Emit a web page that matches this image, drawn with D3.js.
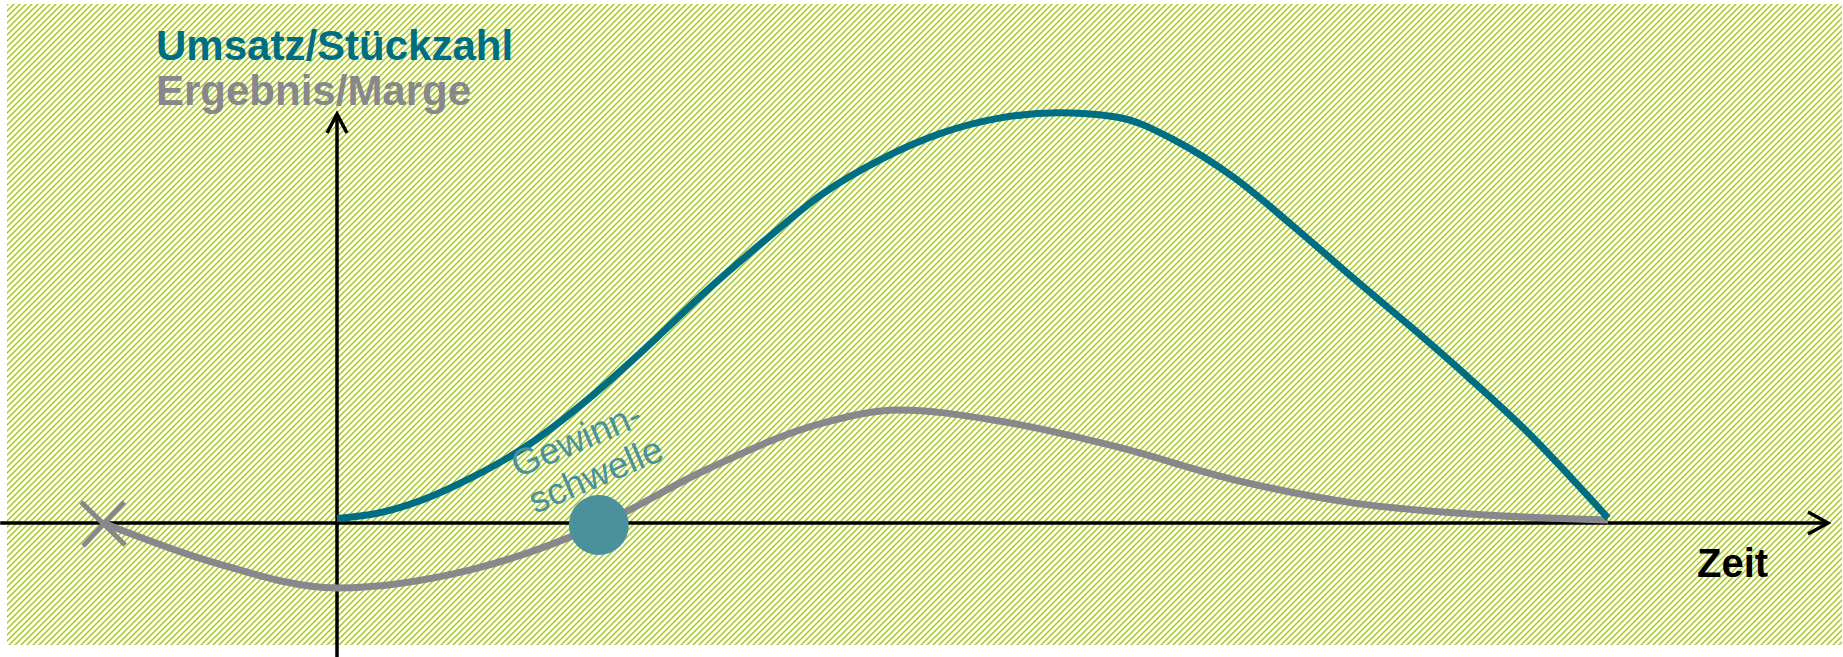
<!DOCTYPE html>
<html lang="de">
<head>
  <meta charset="UTF-8">
  <title>Produktlebenszyklus</title>
  <script src="https://d3js.org/d3.v7.min.js"></script>
  <style>
    body { margin: 0; padding: 0; overflow: hidden; background: #fff; }
    text { font-family: "Liberation Sans", Arial, sans-serif; }
  </style>
</head>
<body>
  <svg id="chart" width="1843" height="657"></svg>

  <script>
    // Data (Zeit in %, Werte relativ zum Umsatzmaximum)
    const umsatzT = [0, 3.1, 6.8, 10.5, 15.1, 19.7, 24.4, 29, 33.6, 38.2, 42.8, 47.5, 52.1, 56.7, 61.3, 66, 70.6, 75.2, 79.8, 84.5, 89.1, 93.7, 97.4, 100];
    const umsatzV = [1.1, 2.3, 5.7, 10.9, 19.1, 30, 42.9, 56.3, 68.6, 80.1, 88.5, 94.8, 98.5, 99.8, 98.8, 93, 84, 72.3, 60, 47.7, 35.2, 22, 10, 1.2];

    const ergebnisT = [-18.4, -9.8, 0, 10.5, 20.6, 29, 38.2, 44.2, 52.1, 61.4, 70.6, 79.9, 89.1, 100];
    const ergebnisV = [0, -9.5, -15.8, -11.4, -0.5, 12.9, 24.3, 27.5, 24.8, 18.5, 10.5, 4.9, 2.2, 0.7];

    const startT = -18.4;      // Beginn (X-Markierung)
    const gewinnschwelleT = 20.6;
    const legendLabels = ["Umsatz/Stückzahl", "Ergebnis/Marge"];
    const xLabel = "Zeit";
    const breakEvenLines = ["Gewinn-", "schwelle"];

    const teal = "#006e82", grey = "#87878c", dotCol = "#4a919b";

    const svg = d3.select("#chart");

    // Scales
    const x = d3.scaleLinear().domain([0, 100]).range([337, 1608]);
    const y = d3.scaleLinear().domain([0, 100]).range([523, 112]);

    // Hatched background
    const defs = svg.append("defs");
    const pat = defs.append("pattern")
      .attr("id", "hatch")
      .attr("patternUnits", "userSpaceOnUse")
      .attr("width", 6)
      .attr("height", 6);
    pat.append("rect").attr("width", 6).attr("height", 6).attr("fill", "#fff");
    pat.append("path")
      .attr("d", "M-1,1 l2,-2 M0,6 l6,-6 M5,7 l2,-2")
      .attr("stroke", "#a2c800")
      .attr("stroke-width", 1.4);

    svg.append("rect")
      .attr("x", 7).attr("y", 4)
      .attr("width", 1835).attr("height", 641)
      .attr("fill", "url(#hatch)");

    // Axes (arrows)
    const axisG = svg.append("g").attr("stroke", "#000").attr("stroke-width", 3.5).attr("fill", "none");
    const x0 = x(0), y0 = y(0);
    const xEnd = x.invert(1828), yTop = y.invert(114);
    axisG.append("line")
      .attr("x1", x(-26.5)).attr("y1", y0)
      .attr("x2", x(xEnd)).attr("y2", y0);
    axisG.append("path")
      .attr("d", `M${x(xEnd) - 20},${y0 - 11} L${x(xEnd)},${y0} L${x(xEnd) - 20},${y0 + 11}`);
    axisG.append("line")
      .attr("x1", x0).attr("y1", y(yTop))
      .attr("x2", x0).attr("y2", 657);
    axisG.append("path")
      .attr("d", `M${x0 - 10},${y(yTop) + 19} L${x0},${y(yTop)} L${x0 + 10},${y(yTop) + 19}`);

    // Curves
    const line = d3.line()
      .x(d => x(d[0]))
      .y(d => y(d[1]))
      .curve(d3.curveMonotoneX);

    svg.append("path")
      .datum(ergebnisT.map((t, i) => [t, ergebnisV[i]]))
      .attr("d", line)
      .attr("fill", "none")
      .attr("stroke", grey)
      .attr("stroke-width", 7)
      .attr("stroke-linejoin", "round");

    svg.append("path")
      .datum(umsatzT.map((t, i) => [t, umsatzV[i]]))
      .attr("d", line)
      .attr("fill", "none")
      .attr("stroke", teal)
      .attr("stroke-width", 7)
      .attr("stroke-linejoin", "round");

    // Start marker (X)
    const sx = x(startT), sy = y(0);
    svg.append("path")
      .attr("d", `M${sx - 22},${sy - 21} L${sx + 22},${sy + 22} M${sx + 21},${sy - 21} L${sx - 20},${sy + 23}`)
      .attr("stroke", grey)
      .attr("stroke-width", 5)
      .attr("fill", "none");

    // Break-even point
    svg.append("circle")
      .attr("cx", x(gewinnschwelleT))
      .attr("cy", y(0) + 2)
      .attr("r", 30)
      .attr("fill", dotCol);

    const be = svg.append("g")
      .attr("transform", `translate(${x(gewinnschwelleT) - 81},478) rotate(-23)`);
    be.selectAll("text")
      .data(breakEvenLines)
      .join("text")
      .attr("x", (d, i) => i * 2)
      .attr("y", (d, i) => i * 40)
      .attr("font-size", 37)
      .attr("fill", dotCol)
      .text(d => d);

    // Legend / axis titles
    svg.selectAll(".legend")
      .data(legendLabels)
      .join("text")
      .attr("class", "legend")
      .attr("x", 156)
      .attr("y", (d, i) => 60 + i * 45)
      .attr("font-size", 42)
      .attr("font-weight", "bold")
      .attr("fill", (d, i) => i === 0 ? teal : grey)
      .text(d => d);

    svg.append("text")
      .attr("x", 1697)
      .attr("y", 577)
      .attr("font-size", 40)
      .attr("font-weight", "bold")
      .attr("fill", "#000")
      .text(xLabel);
  </script>
</body>
</html>
